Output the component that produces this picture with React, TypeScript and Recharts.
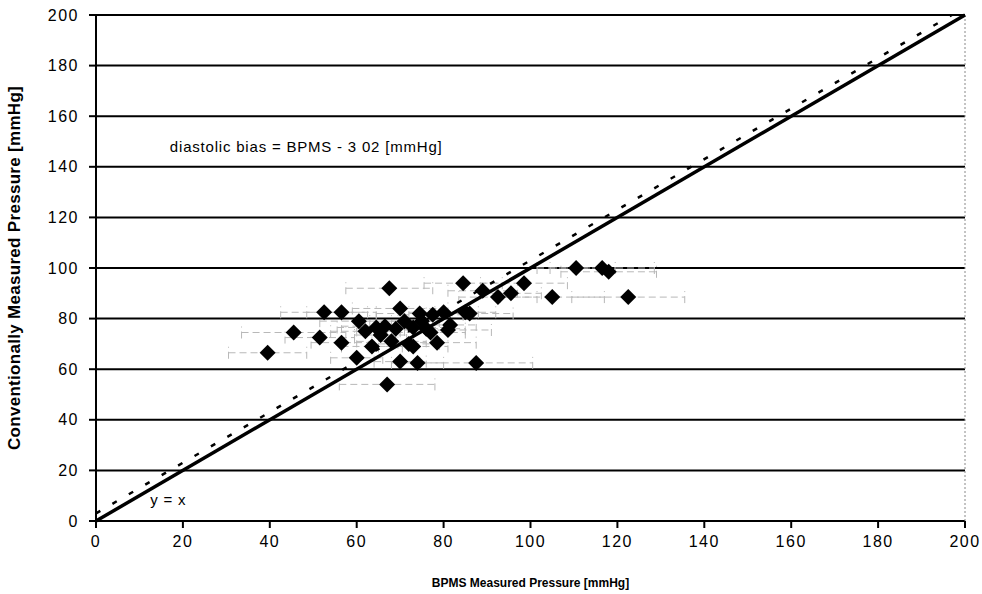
import {
  ScatterChart,
  Scatter,
  XAxis,
  YAxis,
  CartesianGrid,
  ReferenceLine,
  ReferenceDot,
  ErrorBar,
} from 'recharts';

// BPMS (x) vs conventional (y) diastolic readings, mmHg
const bpmsValues = [
  39.5, 45.5, 51.5, 52.5, 56.5, 56.5, 60.5, 60, 62, 63.5, 64.5, 65.5, 66.5, 67, 67.5, 68,
  69, 70, 70, 71, 72, 73, 73, 74, 74.5, 75, 76, 77, 77.5, 78.5, 80, 81, 81.5, 84.5, 85, 86,
  87.5, 89, 92.5, 95.5, 98.5, 105, 110.5, 116.5, 118, 122.5,
];
const conventionalValues = [
  66.5, 74.5, 72.5, 82.5, 70.5, 82.5, 79, 64.5, 75, 69, 76.5, 73.5, 77, 54, 92, 71,
  76, 84, 63, 79, 70, 76.5, 69, 62.5, 82, 79, 76, 74.5, 81.5, 70.5, 82.5, 75.5, 77.5, 94, 82.5, 82,
  62.5, 91, 88.5, 90, 94, 88.5, 100, 100, 98.5, 88.5,
];
const bpmsErrors = [
  9, 12, 8, 10, 7, 8, 9, 6, 8, 7, 9, 6, 10, 11, 10, 8,
  9, 11, 6, 8, 7, 9, 8, 6, 10, 7, 9, 8, 7, 9, 8, 10, 6, 9, 7, 10,
  13, 8, 9, 7, 10, 12, 9, 12, 11, 13,
];
const axisTicks = [0, 20, 40, 60, 80, 100, 120, 140, 160, 180, 200];
const diastolicBias = 3.02;

const points = bpmsValues.map((x, i) => ({
  x,
  y: conventionalValues[i],
  xerr: bpmsErrors[i],
}));

const font = 'Arial, "Liberation Sans", sans-serif';

const Diamond = (props: any) => {
  const { cx, cy } = props;
  const r = 8;
  return (
    <polygon
      points={`${cx},${cy - r} ${cx + r},${cy} ${cx},${cy + r} ${cx - r},${cy}`}
      fill="#000"
    />
  );
};

export default function App() {
  return (
    <div style={{ position: 'absolute', left: 0, top: 0, background: '#fff' }}>
      <ScatterChart
        width={982}
        height={594}
        margin={{ top: 15, right: 17, bottom: 1, left: 0 }}
      >
        <CartesianGrid vertical={false} stroke="#000" strokeWidth={2} />
        <XAxis
          type="number"
          dataKey="x"
          domain={[0, 200]}
          ticks={axisTicks}
          allowDataOverflow
          height={72}
          axisLine={false}
          tickSize={7}
          tickMargin={8}
          tickLine={{ stroke: '#000', strokeWidth: 2 }}
          tick={{ fill: '#000', fontSize: 16, fontFamily: font, letterSpacing: 1.5 }}
          label={{
            value: 'BPMS Measured Pressure [mmHg]',
            position: 'insideBottom',
            offset: 6,
            style: { fill: '#000', fontSize: 12, fontWeight: 'bold', fontFamily: font },
          }}
        />
        <YAxis
          type="number"
          dataKey="y"
          domain={[0, 200]}
          ticks={axisTicks}
          allowDataOverflow
          width={96}
          axisLine={{ stroke: '#000', strokeWidth: 2 }}
          tickSize={7}
          tickMargin={10}
          tickLine={{ stroke: '#000', strokeWidth: 2 }}
          tick={{ fill: '#000', fontSize: 16, fontFamily: font, letterSpacing: 1.5 }}
          label={{
            value: 'Conventionally Measured Pressure [mmHg]',
            angle: -90,
            position: 'insideLeft',
            offset: 14,
            style: {
              fill: '#000',
              fontSize: 17,
              fontWeight: 'bold',
              fontFamily: font,
              letterSpacing: 0.3,
              textAnchor: 'middle',
            },
          }}
        />
        <ReferenceLine x={200} stroke="#888" strokeDasharray="2 2" />
        <Scatter
          data={points}
          shape={<Diamond />}
          isAnimationActive={false}
        >
          <ErrorBar
            dataKey="xerr"
            direction="x"
            width={6}
            stroke="#b8b8b8"
            strokeWidth={1}
            strokeDasharray="7 4"
          />
        </Scatter>
        <ReferenceLine
          segment={[
            { x: 0, y: 0 },
            { x: 200, y: 200 },
          ]}
          stroke="#000"
          strokeWidth={3.5}
        />
        <ReferenceLine
          segment={[
            { x: 0, y: diastolicBias },
            { x: 200 - diastolicBias, y: 200 },
          ]}
          stroke="#000"
          strokeWidth={2.5}
          strokeDasharray="5 14"
        />
        <ReferenceDot
          x={17}
          y={148}
          r={0}
          label={{
            value: 'diastolic bias = BPMS - 3 02 [mmHg]',
            position: 'right',
            offset: 0,
            style: { fill: '#000', fontSize: 15, fontFamily: font, letterSpacing: 0.8 },
          }}
        />
        <ReferenceDot
          x={12.5}
          y={8.3}
          r={0}
          label={{
            value: 'y = x',
            position: 'right',
            offset: 0,
            style: { fill: '#000', fontSize: 15, fontFamily: font, letterSpacing: 0.8 },
          }}
        />
      </ScatterChart>
    </div>
  );
}
